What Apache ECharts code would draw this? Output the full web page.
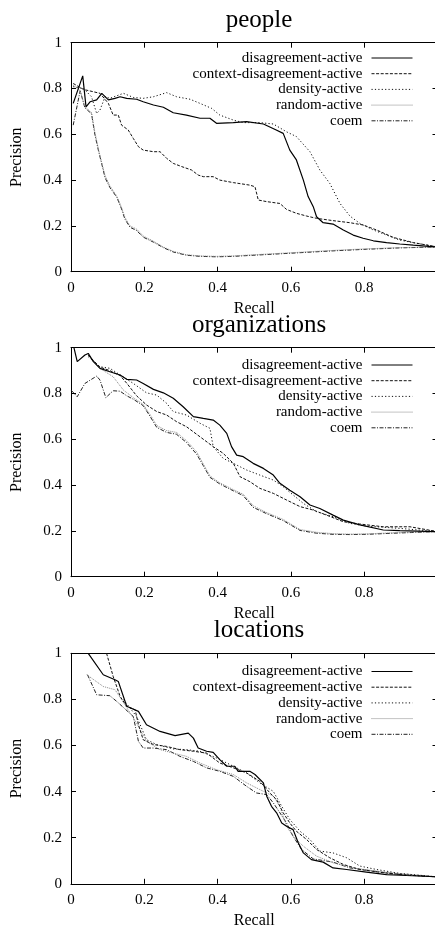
<!DOCTYPE html>
<html>
<head>
<meta charset="utf-8">
<script src="https://cdn.jsdelivr.net/npm/echarts@6/dist/echarts.min.js"></script>
<style>
  html, body { margin: 0; padding: 0; background: #fff; }
  #chart { width: 435px; height: 930px; }
</style>
</head>
<body>
<div id="chart"></div>
<script>
// panel titles and series names
const panelTitles = ["people", "organizations", "locations"];
const seriesNames = ["disagreement-active", "context-disagreement-active", "density-active", "random-active", "coem"];
const tickValues = [0, 0.2, 0.4, 0.6, 0.8, 1];

// people: [recall, precision]
const peopleDisagreement = [[0.006,0.735],[0.032,0.855],[0.041,0.72],[0.052,0.742],[0.07,0.75],[0.084,0.779],[0.102,0.75],[0.12,0.757],[0.134,0.764],[0.152,0.757],[0.179,0.753],[0.197,0.742],[0.225,0.728],[0.252,0.718],[0.279,0.694],[0.315,0.684],[0.352,0.67],[0.379,0.67],[0.397,0.648],[0.443,0.651],[0.479,0.655],[0.525,0.645],[0.56,0.619],[0.579,0.604],[0.597,0.531],[0.615,0.488],[0.634,0.4],[0.647,0.328],[0.661,0.284],[0.67,0.24],[0.688,0.214],[0.715,0.208],[0.743,0.182],[0.77,0.16],[0.797,0.146],[0.825,0.135],[0.861,0.127],[0.897,0.121],[0.934,0.116],[1,0.108]];
const peopleContext = [[0.006,0.822],[0.034,0.796],[0.079,0.779],[0.102,0.735],[0.115,0.684],[0.129,0.684],[0.138,0.64],[0.156,0.619],[0.17,0.582],[0.184,0.546],[0.197,0.531],[0.225,0.524],[0.243,0.524],[0.261,0.495],[0.279,0.473],[0.302,0.459],[0.329,0.444],[0.347,0.422],[0.361,0.415],[0.388,0.415],[0.406,0.4],[0.443,0.389],[0.488,0.378],[0.502,0.371],[0.511,0.313],[0.534,0.306],[0.57,0.298],[0.588,0.272],[0.615,0.255],[0.643,0.243],[0.67,0.233],[0.715,0.223],[0.761,0.214],[0.797,0.204],[0.834,0.182],[0.879,0.15],[0.934,0.127],[1,0.108]];
const peopleDensity = [[0.006,0.808],[0.034,0.8],[0.056,0.764],[0.07,0.691],[0.079,0.706],[0.093,0.764],[0.106,0.757],[0.143,0.779],[0.17,0.761],[0.197,0.757],[0.225,0.764],[0.261,0.782],[0.288,0.764],[0.325,0.753],[0.352,0.735],[0.384,0.713],[0.406,0.684],[0.443,0.662],[0.47,0.651],[0.515,0.651],[0.552,0.645],[0.588,0.611],[0.615,0.59],[0.652,0.524],[0.679,0.444],[0.706,0.386],[0.734,0.298],[0.761,0.243],[0.788,0.211],[0.825,0.182],[0.861,0.16],[0.897,0.138],[0.943,0.124],[1,0.108]];
const peopleRandom = [[0.006,0.815],[0.025,0.79],[0.038,0.72],[0.056,0.695],[0.065,0.61],[0.075,0.535],[0.084,0.475],[0.093,0.42],[0.106,0.375],[0.125,0.33],[0.138,0.28],[0.147,0.238],[0.161,0.2],[0.179,0.186],[0.197,0.156],[0.225,0.133],[0.252,0.108],[0.279,0.089],[0.315,0.074],[0.352,0.069],[0.397,0.067],[0.443,0.069],[0.534,0.077],[0.625,0.085],[0.715,0.093],[0.806,0.1],[0.897,0.105],[1,0.108]];
const peopleCoem = [[0.006,0.64],[0.025,0.79],[0.038,0.715],[0.056,0.69],[0.065,0.6],[0.075,0.528],[0.084,0.47],[0.093,0.41],[0.106,0.368],[0.125,0.325],[0.138,0.274],[0.147,0.23],[0.161,0.194],[0.179,0.18],[0.197,0.151],[0.225,0.129],[0.252,0.105],[0.279,0.086],[0.315,0.072],[0.352,0.067],[0.397,0.065],[0.443,0.067],[0.534,0.075],[0.625,0.083],[0.715,0.091],[0.806,0.098],[0.897,0.104],[1,0.108]];

// organizations
const orgDisagreement = [[0.008,1.0],[0.017,0.939],[0.038,0.968],[0.047,0.975],[0.061,0.939],[0.079,0.91],[0.106,0.895],[0.134,0.881],[0.152,0.862],[0.179,0.859],[0.197,0.844],[0.225,0.818],[0.252,0.803],[0.279,0.779],[0.306,0.742],[0.334,0.699],[0.361,0.691],[0.388,0.684],[0.406,0.662],[0.425,0.626],[0.438,0.568],[0.452,0.531],[0.47,0.524],[0.497,0.495],[0.525,0.473],[0.552,0.444],[0.57,0.408],[0.597,0.378],[0.625,0.349],[0.652,0.313],[0.679,0.298],[0.715,0.269],[0.743,0.247],[0.788,0.226],[0.852,0.204],[0.897,0.201],[1,0.197]];
const orgContext = [[0.047,0.968],[0.079,0.915],[0.106,0.9],[0.134,0.878],[0.152,0.845],[0.179,0.79],[0.206,0.75],[0.234,0.721],[0.261,0.706],[0.288,0.677],[0.315,0.655],[0.352,0.611],[0.388,0.568],[0.415,0.539],[0.443,0.495],[0.461,0.437],[0.488,0.415],[0.515,0.386],[0.552,0.364],[0.588,0.335],[0.625,0.306],[0.661,0.291],[0.697,0.269],[0.743,0.24],[0.788,0.23],[0.852,0.218],[0.925,0.218],[1,0.197]];
const orgDensity = [[0.047,0.961],[0.079,0.917],[0.106,0.91],[0.134,0.881],[0.17,0.844],[0.206,0.803],[0.234,0.793],[0.261,0.757],[0.279,0.721],[0.315,0.706],[0.352,0.67],[0.379,0.648],[0.388,0.568],[0.415,0.517],[0.443,0.495],[0.479,0.466],[0.515,0.444],[0.552,0.422],[0.579,0.393],[0.606,0.357],[0.634,0.32],[0.67,0.284],[0.715,0.262],[0.761,0.233],[0.806,0.221],[0.897,0.211],[1,0.197]];
const orgRandom = [[0.047,0.968],[0.079,0.91],[0.115,0.873],[0.143,0.815],[0.17,0.782],[0.197,0.752],[0.215,0.71],[0.234,0.66],[0.261,0.638],[0.288,0.63],[0.315,0.594],[0.343,0.545],[0.361,0.492],[0.379,0.44],[0.406,0.41],[0.443,0.38],[0.47,0.36],[0.497,0.31],[0.534,0.28],[0.579,0.25],[0.625,0.206],[0.67,0.194],[0.715,0.188],[0.761,0.186],[0.806,0.187],[0.897,0.193],[1,0.197]];
const orgCoem = [[0.0,0.815],[0.017,0.786],[0.038,0.844],[0.07,0.876],[0.079,0.859],[0.095,0.782],[0.115,0.812],[0.134,0.81],[0.152,0.79],[0.17,0.775],[0.197,0.747],[0.215,0.702],[0.234,0.652],[0.261,0.63],[0.288,0.622],[0.315,0.586],[0.343,0.535],[0.361,0.485],[0.379,0.434],[0.406,0.405],[0.443,0.375],[0.47,0.354],[0.497,0.303],[0.534,0.275],[0.579,0.245],[0.625,0.202],[0.67,0.19],[0.715,0.185],[0.761,0.184],[0.806,0.185],[0.897,0.191],[1,0.197]];

// locations
const locDisagreement = [[0.047,1.0],[0.088,0.907],[0.12,0.885],[0.129,0.878],[0.152,0.77],[0.184,0.748],[0.206,0.69],[0.243,0.661],[0.284,0.643],[0.32,0.654],[0.334,0.632],[0.347,0.589],[0.37,0.575],[0.388,0.57],[0.406,0.539],[0.425,0.51],[0.447,0.51],[0.456,0.488],[0.488,0.488],[0.502,0.474],[0.525,0.438],[0.534,0.38],[0.547,0.336],[0.561,0.308],[0.575,0.264],[0.588,0.25],[0.606,0.235],[0.62,0.178],[0.634,0.134],[0.656,0.105],[0.688,0.094],[0.715,0.069],[0.752,0.062],[0.806,0.051],[0.861,0.04],[0.915,0.036],[1,0.03]];
const locContext = [[0.097,1.0],[0.115,0.9],[0.134,0.813],[0.152,0.77],[0.175,0.755],[0.184,0.69],[0.197,0.625],[0.225,0.604],[0.261,0.596],[0.297,0.582],[0.334,0.575],[0.37,0.567],[0.406,0.524],[0.443,0.503],[0.479,0.481],[0.515,0.445],[0.543,0.394],[0.561,0.365],[0.579,0.308],[0.597,0.264],[0.615,0.228],[0.643,0.192],[0.67,0.149],[0.706,0.113],[0.743,0.084],[0.788,0.062],[0.852,0.048],[0.915,0.038],[1,0.03]];
const locDensity = [[0.143,0.799],[0.179,0.726],[0.206,0.625],[0.234,0.604],[0.279,0.585],[0.315,0.582],[0.352,0.575],[0.397,0.546],[0.443,0.51],[0.479,0.481],[0.515,0.438],[0.552,0.401],[0.575,0.336],[0.597,0.279],[0.625,0.228],[0.652,0.192],[0.679,0.142],[0.715,0.134],[0.752,0.113],[0.788,0.077],[0.834,0.062],[0.897,0.045],[1,0.03]];
const locRandom = [[0.043,0.907],[0.088,0.856],[0.12,0.842],[0.147,0.777],[0.179,0.697],[0.206,0.618],[0.243,0.582],[0.279,0.567],[0.315,0.553],[0.352,0.524],[0.397,0.495],[0.443,0.474],[0.479,0.438],[0.515,0.409],[0.552,0.38],[0.57,0.336],[0.588,0.25],[0.606,0.206],[0.634,0.163],[0.67,0.12],[0.715,0.091],[0.77,0.069],[0.852,0.051],[1,0.03]];
const locCoem = [[0.045,0.907],[0.07,0.82],[0.106,0.816],[0.125,0.791],[0.17,0.726],[0.184,0.618],[0.197,0.589],[0.225,0.589],[0.261,0.582],[0.297,0.553],[0.334,0.531],[0.37,0.503],[0.406,0.488],[0.443,0.466],[0.479,0.423],[0.506,0.394],[0.534,0.387],[0.552,0.351],[0.57,0.308],[0.588,0.264],[0.606,0.206],[0.629,0.149],[0.661,0.108],[0.715,0.094],[0.761,0.069],[0.825,0.055],[0.897,0.04],[1,0.03]];

const panelData = [
  [peopleDisagreement, peopleContext, peopleDensity, peopleRandom, peopleCoem],
  [orgDisagreement, orgContext, orgDensity, orgRandom, orgCoem],
  [locDisagreement, locContext, locDensity, locRandom, locCoem],
];

const FONT = "Liberation Serif";
const gridTops = [42.7, 347.7, 653.3];
const gridHeights = [229, 229, 230.5];
const titleTops = [3, 308, 613];
const legendTops = [45.5, 352.5, 659];

// gnuplot-like line styles
const lineStyles = [
  { color: "#000", width: 1.2, type: "solid" },
  { color: "#111", width: 1, type: [3, 1.6] },
  { color: "#111", width: 1, type: [1.2, 2.2] },
  { color: "#888", width: 1, type: [1, 1] },
  { color: "#222", width: 1, type: [4, 1.5, 1, 1.5] },
];

const axisLine = { show: true, onZero: false, lineStyle: { color: "#000", width: 1 } };
const ticks = { show: true, inside: true, length: 5, lineStyle: { color: "#000" } };

const grids = [], xAxes = [], yAxes = [], titles = [], legends = [], series = [];

for (let p = 0; p < 3; p++) {
  grids.push({
    left: 71, top: gridTops[p], width: 366.5, height: gridHeights[p],
    outerBoundsMode: "none", containLabel: false,
  });
  titles.push({
    text: panelTitles[p], left: 254, top: titleTops[p], textAlign: "center",
    textStyle: { fontFamily: FONT, fontSize: 25, fontWeight: "normal", color: "#000" },
  });
  legends.push({
    data: seriesNames, orient: "vertical", right: 17, top: legendTops[p],
    align: "right", itemWidth: 41, itemHeight: 8, itemGap: 0.7,
    inactiveColor: "#000",
    itemStyle: { opacity: 0, borderWidth: 0 },
    lineStyle: { width: 1 },
    textStyle: { fontFamily: FONT, fontSize: 15, color: "#000", lineHeight: 15, padding: [0, 4, 0, 0] },
  });
  // bottom / left axes with labels
  xAxes.push({
    type: "value", gridIndex: p, min: 0, max: 1, interval: 0.2, position: "bottom",
    name: "Recall", nameLocation: "middle", nameGap: 29,
    nameTextStyle: { fontFamily: FONT, fontSize: 16, color: "#000" },
    axisLine, axisTick: ticks, splitLine: { show: false },
    axisLabel: { fontFamily: FONT, fontSize: 15, color: "#000", margin: 9, showMaxLabel: true },
  });
  yAxes.push({
    type: "value", gridIndex: p, min: 0, max: 1, interval: 0.2, position: "left",
    name: "Precision", nameLocation: "middle", nameGap: 46,
    nameTextStyle: { fontFamily: FONT, fontSize: 16, color: "#000" },
    axisLine, axisTick: ticks, splitLine: { show: false },
    axisLabel: { fontFamily: FONT, fontSize: 15, color: "#000", margin: 9 },
  });
  // mirrored top / right axes (ticks only)
  xAxes.push({
    type: "value", gridIndex: p, min: 0, max: 1, interval: 0.2, position: "top",
    axisLine, axisTick: ticks, splitLine: { show: false }, axisLabel: { show: false },
  });
  yAxes.push({
    type: "value", gridIndex: p, min: 0, max: 1, interval: 0.2, position: "right",
    axisLine, axisTick: ticks, splitLine: { show: false }, axisLabel: { show: false },
  });

  seriesNames.forEach((name, i) => {
    series.push({
      name, type: "line", xAxisIndex: p * 2, yAxisIndex: p * 2,
      data: panelData[p][i], symbol: "none", showSymbol: false,
      lineStyle: lineStyles[i], itemStyle: { color: lineStyles[i].color },
      z: 10 - i,
    });
  });
}

const chart = echarts.init(document.getElementById("chart"));
chart.setOption({
  animation: false,
  backgroundColor: "#fff",
  title: titles,
  legend: legends,
  grid: grids,
  xAxis: xAxes,
  yAxis: yAxes,
  series,
});
</script>
</body>
</html>
